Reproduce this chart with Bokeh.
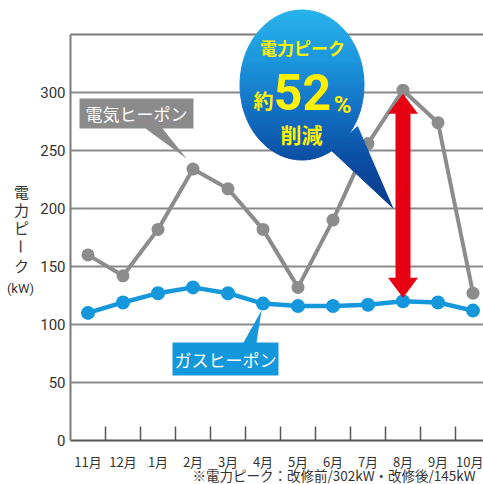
import math
from bokeh.plotting import figure
from bokeh.models import FixedTicker, Label
from bokeh.embed import file_html
from bokeh.resources import INLINE

# ---------------- data ----------------
months = ["11月", "12月", "1月", "2月", "3月", "4月", "5月", "6月", "7月", "8月", "9月", "10月"]
electric = [160, 142, 182, 234, 217, 182, 132, 190, 256, 302, 274, 127]   # 電気ヒーポン
gas = [110, 119, 127, 132, 127, 118, 116, 116, 117, 120, 119, 112]        # ガスヒーポン
yticks = [0, 50, 100, 150, 200, 250, 300]
y_top = 350
footnote = "※電力ピーク：改修前/302kW・改修後/145kW"

# ---------------- geometry helpers (pixel -> data) ----------------
X0, Y0, XS, YS = 70.0, 440.0, 35.0, 1.16
W, H = 483, 484


def dx(px):
    return (px - X0) / XS


def dy(py):
    return (Y0 - py) / YS


xs = [i + 0.5 for i in range(len(months))]
n = len(months)

p = figure(width=W, height=H, x_range=(dx(0), dx(W)), y_range=(dy(H), dy(0)),
           output_backend="svg", toolbar_location=None, min_border=0,
           x_axis_location="below", y_axis_location="left")
p.outline_line_color = None
p.background_fill_color = "white"
p.border_fill_color = "white"
p.xgrid.visible = False
p.ygrid.visible = False

# y axis (fixed at x = 0, labels outward)
yax = p.yaxis[0]
yax.fixed_location = 0
yax.bounds = (0, y_top)
yax.ticker = FixedTicker(ticks=yticks)
yax.axis_line_color = "#7a7a7a"
yax.axis_line_width = 2
yax.major_tick_in = 0
yax.major_tick_out = 0
yax.minor_tick_line_color = None
yax.major_label_standoff = 5
yax.major_label_text_font = "Roboto"
yax.major_label_text_font_size = "15px"
yax.major_label_text_color = "#333333"

# x axis (fixed at y = 0): labels at month centres, inward ticks between months
xax = p.xaxis[0]
xax.fixed_location = 0
xax.bounds = (0, n + 1)
xax.ticker = FixedTicker(ticks=xs, minor_ticks=list(range(1, n + 1)))
xax.major_label_overrides = {x: m for x, m in zip(xs, months)}
xax.major_tick_in = 0
xax.major_tick_out = 0
xax.minor_tick_in = 14
xax.minor_tick_out = 0
xax.minor_tick_line_color = "#555555"
xax.minor_tick_line_width = 1.5
xax.axis_line_color = "#555555"
xax.axis_line_width = 2
xax.major_label_standoff = 11
xax.major_label_text_font = "Noto Sans CJK JP"
xax.major_label_text_font_size = "13px"
xax.major_label_text_color = "#333333"

# horizontal grid lines and top frame line
gl = [t for t in yticks if t > 0]
p.segment(x0=[0] * len(gl), y0=gl, x1=[n + 1] * len(gl), y1=gl, line_color="#8a8a8a", line_width=2)
p.segment(x0=[0], y0=[y_top], x1=[n + 1], y1=[y_top], line_color="#7a7a7a", line_width=2)

# series
p.line(xs, electric, line_color="#8c8c8c", line_width=4)
p.scatter(xs, electric, size=13, fill_color="#8c8c8c", line_color=None)
p.line(xs, gas, line_color="#1597dc", line_width=4.5)
p.scatter(xs, gas, size=14, fill_color="#1597dc", line_color=None)


def poly_px(pts):
    return [dx(a) for a, b in pts], [dy(b) for a, b in pts]


# callout: 電気ヒーポン
bx, by = poly_px([(79, 98), (193, 98), (193, 128), (162, 128), (186, 158), (145, 128), (79, 128)])
p.patch(bx, by, fill_color="#8b8b8b", line_color=None)
p.add_layout(Label(x=dx(136), y=dy(113), text="電気ヒーポン", text_align="center",
                   text_baseline="middle", text_color="white", text_font="Noto Sans CJK JP",
                   text_font_size="17px"))

# callout: ガスヒーポン
gx, gy = poly_px([(172, 342), (243, 342), (261, 310), (256, 342), (278, 342), (278, 375), (172, 375)])
p.patch(gx, gy, fill_color="#1597dc", line_color=None)
p.add_layout(Label(x=dx(225), y=dy(359), text="ガスヒーポン", text_align="center",
                   text_baseline="middle", text_color="white", text_font="Noto Sans CJK JP",
                   text_font_size="17px"))

# red double arrow between peaks in 8月
i8 = months.index("8月")
xa = xs[i8]
top = electric[i8] - 3
bot = gas[i8] + 3
hl = 20 / YS
sw = 7.5 / XS
hw = 15 / XS
p.patch([xa, xa + hw, xa + sw, xa + sw, xa + hw, xa, xa - hw, xa - sw, xa - sw, xa - hw],
        [top, top - hl, top - hl, bot + hl, bot + hl, bot, bot + hl, bot + hl, top - hl, top - hl],
        fill_color="#e60012", line_color=None)

# speech bubble with vertical gradient (pixel geometry)
cx, cy, rx, ry = 301.5, 84.5, 62.0, 75.0
ellipse = [(cx + rx * math.cos(t), cy + ry * math.sin(t))
           for t in [2 * math.pi * k / 120 for k in range(120)]]
tail = [(331, 150), (357, 126), (392, 207)]


def clip(poly, lim, keep_greater):
    out = []
    m = len(poly)
    for i in range(m):
        a = poly[i]
        b = poly[(i + 1) % m]
        ina = a[1] >= lim if keep_greater else a[1] <= lim
        inb = b[1] >= lim if keep_greater else b[1] <= lim
        if ina:
            out.append(a)
        if ina != inb:
            t = (lim - a[1]) / (b[1] - a[1])
            out.append((a[0] + t * (b[0] - a[0]), lim))
    return out


stops = [(8, (40, 180, 236)), (60, (28, 150, 220)), (110, (19, 112, 196)),
         (160, (11, 78, 163)), (208, (10, 58, 140))]


def grad(y):
    for (y1, c1), (y2, c2) in zip(stops[:-1], stops[1:]):
        if y <= y2:
            t = max(0.0, (y - y1) / (y2 - y1))
            return "#%02x%02x%02x" % tuple(int(round(c1[k] + t * (c2[k] - c1[k]))) for k in range(3))
    return "#%02x%02x%02x" % stops[-1][1]


bxs, bys, bcols = [], [], []
step = 3
yb = 8
while yb < 208:
    for shape in (ellipse, tail):
        piece = clip(clip(shape, yb, True), yb + step, False)
        if len(piece) >= 3:
            px_, py_ = poly_px(piece)
            bxs.append(px_)
            bys.append(py_)
            bcols.append(grad(yb + step / 2))
    yb += step
p.patches(bxs, bys, fill_color=bcols, line_color=bcols, line_width=1)

yellow = "#fff200"
bub_font = "Noto Sans CJK JP"
p.add_layout(Label(x=dx(302), y=dy(47), text="電力ピーク", text_align="center", text_baseline="middle",
                   text_color=yellow, text_font=bub_font, text_font_size="17px", text_font_style="bold"))
p.add_layout(Label(x=dx(263), y=dy(100), text="約", text_align="center", text_baseline="middle",
                   text_color=yellow, text_font=bub_font, text_font_size="20px", text_font_style="bold"))
p.add_layout(Label(x=dx(302), y=dy(91), text="52", text_align="center", text_baseline="middle",
                   text_color=yellow, text_font="Roboto", text_font_size="50px", text_font_style="bold"))
p.add_layout(Label(x=dx(342), y=dy(104), text="%", text_align="center", text_baseline="middle",
                   text_color=yellow, text_font="Roboto", text_font_size="24px", text_font_style="bold"))
p.add_layout(Label(x=dx(301), y=dy(133), text="削減", text_align="center", text_baseline="middle",
                   text_color=yellow, text_font=bub_font, text_font_size="21px", text_font_style="bold"))

# y axis title (vertical Japanese)
chars = ["電", "力", "ピ", "ー", "ク"]
cys = [191, 209, 227, 246, 265]
for ch, yy in zip(chars, cys):
    p.add_layout(Label(x=dx(21), y=dy(yy), text=ch, text_align="center", text_baseline="middle",
                       angle=(-math.pi / 2 if ch == "ー" else 0),
                       text_color="#333333", text_font="Noto Sans CJK JP", text_font_size="15px"))
p.add_layout(Label(x=dx(20), y=dy(288), text="(kW)", text_align="center", text_baseline="middle",
                   text_color="#333333", text_font="Roboto", text_font_size="13px"))

# footnote
p.add_layout(Label(x=dx(192), y=dy(474), text=footnote, text_align="left", text_baseline="middle",
                   text_color="#333333", text_font="Noto Sans CJK JP", text_font_size="13.5px"))

open("out.html", "w").write(file_html(p, INLINE))
